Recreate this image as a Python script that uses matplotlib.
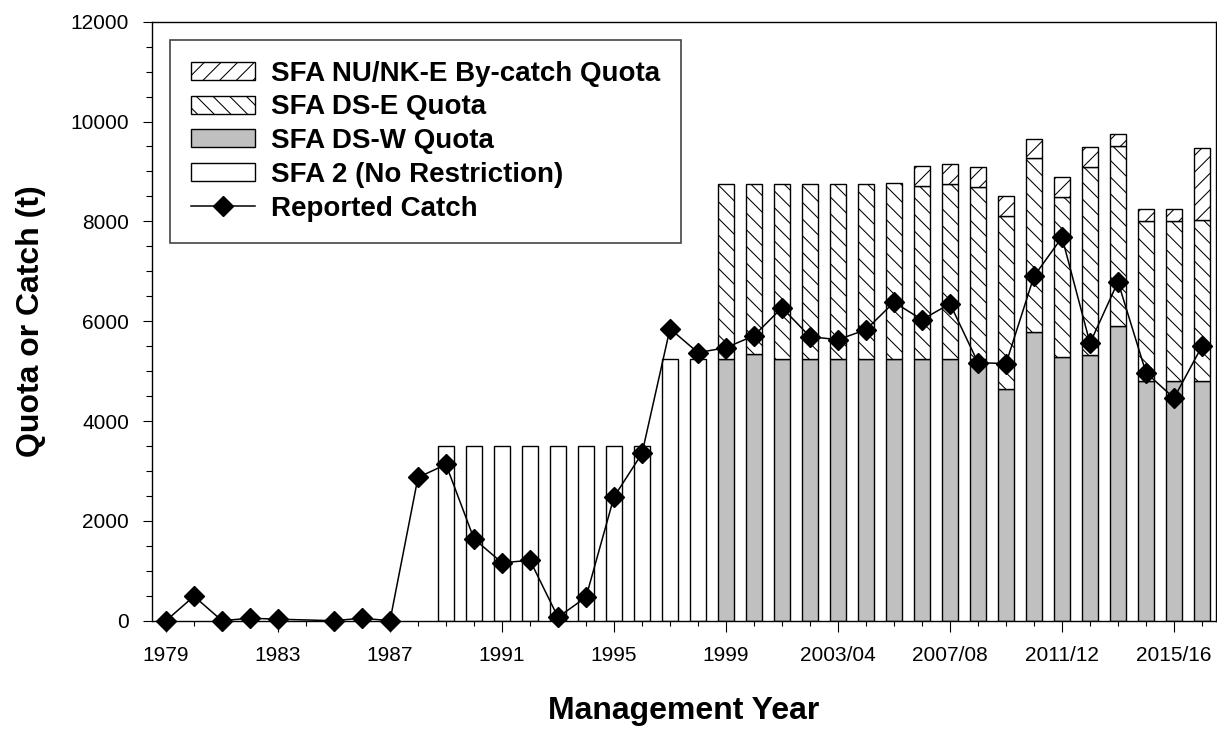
import matplotlib
matplotlib.use("Agg")
import matplotlib.pyplot as plt
from matplotlib.ticker import FixedLocator, MultipleLocator
from matplotlib.patches import Patch
from matplotlib.lines import Line2D

# ---------------- data ----------------
years = ["1979", "1980", "1981", "1982", "1983", "1984", "1985", "1986", "1987", "1988",
         "1989", "1990", "1991", "1992", "1993", "1994", "1995", "1996", "1997", "1998",
         "1999", "2000/01", "2001/02", "2002/03", "2003/04", "2004/05", "2005/06",
         "2006/07", "2007/08", "2008/09", "2009/10", "2010/11", "2011/12", "2012/13",
         "2013/14", "2014/15", "2015/16", "2016/17"]

# SFA 2 (No Restriction) quota
sfa2 = [0, 0, 0, 0, 0, 0, 0, 0, 0, 0,
        3500, 3500, 3500, 3500, 3500, 3500, 3500, 3500, 5250, 5250,
        0, 0, 0, 0, 0, 0, 0, 0, 0, 0, 0, 0, 0, 0, 0, 0, 0, 0]

# SFA DS-W quota
ds_w = [0, 0, 0, 0, 0, 0, 0, 0, 0, 0,
        0, 0, 0, 0, 0, 0, 0, 0, 0, 0,
        5250, 5350, 5250, 5250, 5250, 5250, 5250, 5250, 5250, 5250,
        4650, 5780, 5290, 5320, 5900, 4800, 4800, 4800]

# SFA DS-E quota
ds_e = [0, 0, 0, 0, 0, 0, 0, 0, 0, 0,
        0, 0, 0, 0, 0, 0, 0, 0, 0, 0,
        3500, 3400, 3500, 3500, 3500, 3500, 3510, 3460, 3500, 3430,
        3460, 3480, 3200, 3760, 3600, 3210, 3210, 3220]

# SFA NU/NK-E by-catch quota
bycatch = [0, 0, 0, 0, 0, 0, 0, 0, 0, 0,
           0, 0, 0, 0, 0, 0, 0, 0, 0, 0,
           0, 0, 0, 0, 0, 0, 0, 400, 390, 400,
           400, 400, 400, 400, 260, 230, 230, 1450]

# Reported catch (None = not reported)
catch = [0, 490, 0, 50, 30, None, 0, 50, 0, 2870,
         3130, 1640, 1160, 1210, 70, 470, 2480, 3350, 5850, 5370,
         5470, 5710, 6270, 5690, 5630, 5830, 6380, 6030, 6350, 5170,
         5150, 6900, 7680, 5560, 6790, 4970, 4460, 5500]

labels = ["SFA NU/NK-E By-catch Quota", "SFA DS-E Quota", "SFA DS-W Quota",
          "SFA 2 (No Restriction)", "Reported Catch"]

# ---------------- style ----------------
plt.rcParams["font.family"] = ["Liberation Sans", "DejaVu Sans"]
plt.rcParams["hatch.linewidth"] = 0.75
plt.rcParams["hatch.color"] = "black"

W, H = 1217, 730
fig = plt.figure(figsize=(W / 100, H / 100), dpi=100)
ax = fig.add_axes([152 / W, 1 - 620.7 / H, 1064 / W, 599 / H])

bw = 0.6
lw = 1.0


def nonzero(vals, base=None):
    idx = [i for i, v in enumerate(vals) if v]
    h = [vals[i] for i in idx]
    b = [base[i] for i in idx] if base is not None else None
    return idx, h, b


i, h, _ = nonzero(sfa2)
ax.bar(i, h, width=bw, color="white", edgecolor="black", linewidth=lw, zorder=2)

i, h, _ = nonzero(ds_w)
ax.bar(i, h, width=bw, color="#c0c0c0", edgecolor="black", linewidth=lw, zorder=2)

i, h, b = nonzero(ds_e, ds_w)
ax.bar(i, h, bottom=b, width=bw, color="white", edgecolor="black",
       linewidth=lw, hatch="\\\\", zorder=2)

top_e = [a + c for a, c in zip(ds_w, ds_e)]
i, h, b = nonzero(bycatch, top_e)
ax.bar(i, h, bottom=b, width=bw, color="white", edgecolor="black",
       linewidth=lw, hatch="//", zorder=2)

xc = [k for k, v in enumerate(catch) if v is not None]
yc = [catch[k] for k in xc]
ax.plot(xc, yc, color="black", lw=1.1, marker="D", ms=10, mfc="black",
        mec="black", zorder=5, clip_on=False)

# ---------------- axes ----------------
ax.set_xlim(-0.5, len(years) - 0.5)
ax.set_ylim(0, 12000)
major_x = list(range(0, len(years), 4))
ax.set_xticks(major_x)
ax.set_xticklabels([years[k] for k in major_x])
ax.xaxis.set_minor_locator(FixedLocator(list(range(len(years)))))
ax.yaxis.set_major_locator(MultipleLocator(2000))
ax.yaxis.set_minor_locator(MultipleLocator(500))

ax.tick_params(axis="x", which="major", length=8, width=0.8, pad=10, labelsize=15)
ax.tick_params(axis="x", which="minor", length=3.5, width=0.8)
ax.tick_params(axis="y", which="major", length=6.5, width=0.8, pad=10, labelsize=15)
ax.tick_params(axis="y", which="minor", length=4, width=0.8)
for s in ax.spines.values():
    s.set_linewidth(1.0)

ax.set_xlabel("Management Year", fontsize=23, fontweight="bold")
ax.xaxis.set_label_coords(0.5, -0.125)
ax.set_ylabel("Quota or Catch (t)", fontsize=23, fontweight="bold")
ax.yaxis.set_label_coords(-0.1, 0.5)

handles = [
    Patch(facecolor="white", edgecolor="black", hatch="//", linewidth=lw),
    Patch(facecolor="white", edgecolor="black", hatch="\\\\", linewidth=lw),
    Patch(facecolor="#c0c0c0", edgecolor="black", linewidth=lw),
    Patch(facecolor="white", edgecolor="black", linewidth=lw),
    Line2D([], [], color="black", lw=1.1, marker="D", ms=10, mfc="black", mec="black"),
]
leg = ax.legend(handles, labels, loc="upper left",
                prop={"weight": "bold", "size": 20},
                frameon=True, fancybox=False, edgecolor="#444444", framealpha=1,
                borderpad=0.75, labelspacing=0.28, handlelength=2.3,
                handleheight=0.62, handletextpad=0.6, borderaxespad=0.65)
leg.get_frame().set_linewidth(1.2)
leg.set_zorder(10)

fig.savefig("out.png", dpi=100)
